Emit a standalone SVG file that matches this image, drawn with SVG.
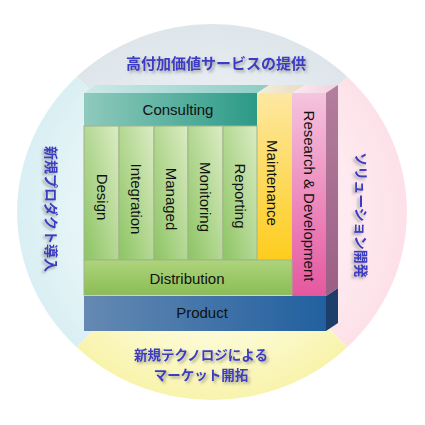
<svg xmlns="http://www.w3.org/2000/svg" width="425" height="425" viewBox="0 0 425 425">
<defs>
<radialGradient id="gTop" cx="212" cy="212" r="195" gradientUnits="userSpaceOnUse"><stop offset="0.4" stop-color="#eef2f5"/><stop offset="1" stop-color="#dde5ea"/></radialGradient>
<radialGradient id="gLeft" cx="212" cy="212" r="195" gradientUnits="userSpaceOnUse"><stop offset="0.4" stop-color="#f4fafb"/><stop offset="1" stop-color="#d9eff3"/></radialGradient>
<radialGradient id="gRight" cx="212" cy="212" r="195" gradientUnits="userSpaceOnUse"><stop offset="0.4" stop-color="#fff5f8"/><stop offset="1" stop-color="#fde0e8"/></radialGradient>
<radialGradient id="gBottom" cx="212" cy="212" r="195" gradientUnits="userSpaceOnUse"><stop offset="0.4" stop-color="#fffff0"/><stop offset="1" stop-color="#f8f3a8"/></radialGradient>
<linearGradient id="gCons" x1="0" y1="0" x2="1" y2="0"><stop offset="0" stop-color="#8fcabd"/><stop offset="1" stop-color="#2b9a86"/></linearGradient>
<linearGradient id="gConsTop" x1="0" y1="0" x2="1" y2="0"><stop offset="0" stop-color="#cde9ea"/><stop offset="1" stop-color="#8ccdc4"/></linearGradient>
<linearGradient id="gCol" x1="1" y1="0" x2="0" y2="1"><stop offset="0" stop-color="#dcecc4"/><stop offset="1" stop-color="#8cc463"/></linearGradient>
<linearGradient id="gDist" x1="0" y1="0" x2="0" y2="1"><stop offset="0" stop-color="#aed47c"/><stop offset="1" stop-color="#8bbd55"/></linearGradient>
<linearGradient id="gMaint" x1="0" y1="0" x2="0" y2="1"><stop offset="0" stop-color="#fde8a2"/><stop offset="1" stop-color="#fdcd1c"/></linearGradient>
<linearGradient id="gMaintTop" x1="0" y1="0" x2="1" y2="0"><stop offset="0" stop-color="#f6eedb"/><stop offset="1" stop-color="#e9dcc0"/></linearGradient>
<linearGradient id="gRes" x1="0" y1="0" x2="0" y2="1"><stop offset="0" stop-color="#f5c4de"/><stop offset="1" stop-color="#e5579f"/></linearGradient>
<linearGradient id="gResTop" x1="0" y1="0" x2="1" y2="0"><stop offset="0" stop-color="#fbe9f0"/><stop offset="1" stop-color="#f3d2e0"/></linearGradient>
<linearGradient id="gResSide" x1="0" y1="0" x2="0" y2="1"><stop offset="0" stop-color="#b47e9d"/><stop offset="1" stop-color="#9c5f86"/></linearGradient>
<linearGradient id="gProd" x1="0" y1="0" x2="1" y2="0"><stop offset="0" stop-color="#6589b2"/><stop offset="1" stop-color="#21609f"/></linearGradient>
<filter id="sh" x="-10%" y="-30%" width="130%" height="180%">
<feGaussianBlur in="SourceAlpha" stdDeviation="1.6"/>
<feOffset dx="2" dy="2" result="b"/>
<feFlood flood-color="#777777" flood-opacity="0.65"/>
<feComposite in2="b" operator="in"/>
<feMerge><feMergeNode/><feMergeNode in="SourceGraphic"/></feMerge>
</filter>
</defs>
<style>
.jp{font-family:"Noto Sans CJK JP","Noto Sans CJK SC",sans-serif;font-weight:bold;fill:#3b3bc4;font-size:14px;text-anchor:middle;dominant-baseline:central;filter:url(#sh)}
.lb{font-family:"Liberation Sans",Arial,sans-serif;font-size:15px;fill:#111111;text-anchor:middle;dominant-baseline:central}
.col{fill:url(#gCol);stroke:#9fb38a;stroke-width:1}
</style>
<g id="background">
<path d="M212,212 L76.7,76.7 A195,188 0 0 1 347.3,76.7 Z" fill="url(#gTop)"/>
<path d="M212,212 L347.3,76.7 A195,188 0 0 1 347.3,347.3 Z" fill="url(#gRight)"/>
<path d="M212,212 L347.3,347.3 A195,188 0 0 1 76.7,347.3 Z" fill="url(#gBottom)"/>
<path d="M212,212 L76.7,347.3 A195,188 0 0 1 76.7,76.7 Z" fill="url(#gLeft)"/>
</g>
<g id="outer-labels">
<text class="jp" x="216" y="62" style="font-size:15px">高付加価値サービスの提供</text>
<text class="jp" transform="translate(52,209) rotate(90)">新規プロダクト導入</text>
<text class="jp" transform="translate(362,215) rotate(90)">ソリューション開発</text>
<text class="jp" x="201" y="354" style="font-size:13.5px">新規テクノロジによる</text>
<text class="jp" x="201" y="374" style="font-size:13.5px">マーケット開拓</text>
</g>
<g id="product">
<rect x="84" y="296" width="242" height="35" fill="url(#gProd)"/>
<polygon points="326,296 338,288 338,323 326,331" fill="#1d3e6b"/>
<text class="lb" x="202" y="312">Product</text>
</g>
<g id="research">
<polygon points="292,93 304,85 338,85 326,93" fill="url(#gResTop)"/>
<polygon points="326,93 338,85 338,288 326,296" fill="url(#gResSide)"/>
<rect x="292" y="93" width="34" height="203" fill="url(#gRes)"/>
<text class="lb" transform="translate(309,196) rotate(90)">Research &amp; Development</text>
</g>
<g id="maintenance">
<polygon points="257,93 269,85 304,85 292,93" fill="url(#gMaintTop)"/>
<rect x="257" y="93" width="35" height="167" fill="url(#gMaint)"/>
<text class="lb" transform="translate(272,183) rotate(90)">Maintenance</text>
</g>
<g id="consulting">
<polygon points="84,93 96,85 269,85 257,93" fill="url(#gConsTop)"/>
<rect x="84" y="93" width="173" height="33" fill="url(#gCons)"/>
<text class="lb" x="178" y="109">Consulting</text>
</g>
<g id="design">
<rect class="col" x="84" y="126" width="35" height="134"/>
<text class="lb" transform="translate(102,197) rotate(90)">Design</text>
</g>
<g id="integration">
<rect class="col" x="119" y="126" width="35" height="134"/>
<text class="lb" transform="translate(136,199) rotate(90)">Integration</text>
</g>
<g id="managed">
<rect class="col" x="154" y="126" width="34" height="134"/>
<text class="lb" transform="translate(171,199) rotate(90)">Managed</text>
</g>
<g id="monitoring">
<rect class="col" x="188" y="126" width="35" height="134"/>
<text class="lb" transform="translate(205,197) rotate(90)">Monitoring</text>
</g>
<g id="reporting">
<rect class="col" x="223" y="126" width="34" height="134"/>
<text class="lb" transform="translate(240,196) rotate(90)">Reporting</text>
</g>
<g id="distribution">
<rect x="84" y="260" width="208" height="35" fill="url(#gDist)" stroke="#9fb38a" stroke-width="1"/>
<text class="lb" x="187" y="278">Distribution</text>
</g>
<g id="connectors"/>
</svg>
